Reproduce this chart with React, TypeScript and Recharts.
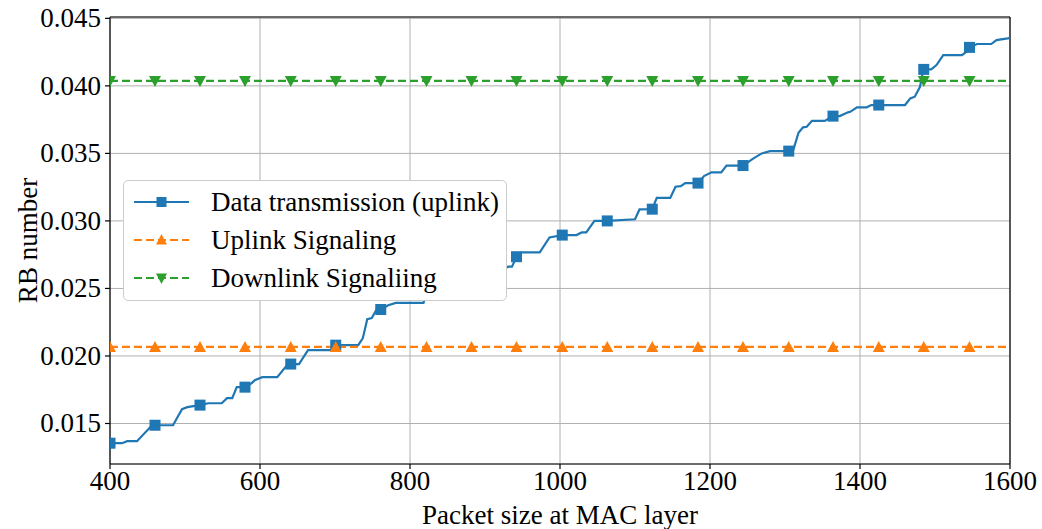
import React from 'react';
import { LineChart, Line, XAxis, YAxis, CartesianGrid, Legend, ReferenceLine } from 'recharts';

const FONT = '"Liberation Serif", "Times New Roman", Times, serif';
const FS = 27;
const BLUE = '#1f77b4';
const ORANGE = '#ff7f0e';
const GREEN = '#2ca02c';

// Packet size (x) and RB number (y) of the data transmission curve
const dataX = [
  400, 416, 423, 436, 456, 460, 484, 496, 503, 520, 531, 549, 556, 563, 569, 580, 589, 593, 603, 623,
  636, 641, 652, 664, 698, 701, 731, 737, 743, 749, 755, 761, 771, 781, 818, 822, 835, 850, 870, 882,
  900, 920, 931, 936, 942, 949, 973, 986, 1003, 1022, 1029, 1035, 1046, 1063, 1100, 1106, 1123, 1129, 1147, 1154,
  1161, 1167, 1184, 1192, 1202, 1215, 1222, 1244, 1258, 1269, 1280, 1305, 1311, 1318, 1324, 1329, 1336, 1353, 1364, 1373,
  1384, 1387, 1396, 1409, 1415, 1425, 1460, 1467, 1473, 1480, 1483, 1485, 1495, 1502, 1511, 1536, 1542, 1546, 1556, 1575,
  1582, 1597, 1600,
];
const dataY = [
  0.01354, 0.01354, 0.01369, 0.01369, 0.01487, 0.01487, 0.01487, 0.01606, 0.01621, 0.01636, 0.0165, 0.0165, 0.01688, 0.01688, 0.01769, 0.01769, 0.01799, 0.01821, 0.01843, 0.01843,
  0.01932, 0.0194, 0.0194, 0.02043, 0.02043, 0.0208, 0.0208, 0.0213, 0.02272, 0.0228, 0.0234, 0.02344, 0.02376, 0.02393, 0.02393, 0.0247, 0.0248, 0.025, 0.0254, 0.0258,
  0.0261, 0.0263, 0.02661, 0.02661, 0.02735, 0.02767, 0.02767, 0.02878, 0.02895, 0.02895, 0.02915, 0.02915, 0.03, 0.03, 0.03012, 0.03085, 0.03087, 0.0317, 0.0317, 0.03253,
  0.03258, 0.0328, 0.0328, 0.03332, 0.0336, 0.0336, 0.0341, 0.0341, 0.03463, 0.035, 0.03517, 0.03517, 0.03525, 0.03653, 0.03693, 0.03697, 0.03741, 0.03741, 0.03776, 0.03776,
  0.03804, 0.03808, 0.03841, 0.03841, 0.03858, 0.03858, 0.03858, 0.03907, 0.0392, 0.03993, 0.0408, 0.04122, 0.04122, 0.04154, 0.04228, 0.04228, 0.04253, 0.04285, 0.0431, 0.0431,
  0.04339, 0.04352, 0.04355,
];
// x positions where markers are drawn
const markerX = [400, 460, 520, 580, 641, 701, 761, 822, 882, 942, 1003, 1063, 1123, 1184, 1244, 1305, 1364, 1425, 1485, 1546];
const uplinkSignaling = 0.02067;
const downlinkSignaling = 0.04037;

const xTicks = [400, 600, 800, 1000, 1200, 1400, 1600];
const yTicks = [0.015, 0.02, 0.025, 0.03, 0.035, 0.04, 0.045];

const seriesNames = ['Data transmission (uplink)', 'Uplink Signaling', 'Downlink Signaliing'];

const dataRows = dataX.map((x, i) => ({ x, v: dataY[i], m: markerX.includes(x) }));
const sigX = [...markerX, 1600];
const upRows = sigX.map((x) => ({ x, v: uplinkSignaling, m: markerX.includes(x) }));
const downRows = sigX.map((x) => ({ x, v: downlinkSignaling, m: markerX.includes(x) }));

const SQ = 11;
const squareDot = (p: any) => {
  if (!p.payload || !p.payload.m) return <g key={p.key || `s${p.index}`} />;
  return <rect key={p.key || `s${p.index}`} x={p.cx - SQ / 2} y={p.cy - SQ / 2} width={SQ} height={SQ} fill={BLUE} />;
};
const triUp = (color: string) => (p: any) => {
  if (!p.payload || !p.payload.m) return <g key={p.key || `t${p.index}`} />;
  const { cx, cy } = p;
  return <path key={p.key || `t${p.index}`} d={`M${cx},${cy - 6} L${cx + 6},${cy + 5} L${cx - 6},${cy + 5} Z`} fill={color} />;
};
const triDown = (color: string) => (p: any) => {
  if (!p.payload || !p.payload.m) return <g key={p.key || `d${p.index}`} />;
  const { cx, cy } = p;
  return <path key={p.key || `d${p.index}`} d={`M${cx},${cy + 6} L${cx + 6},${cy - 5} L${cx - 6},${cy - 5} Z`} fill={color} />;
};

const XTick = (p: any) => (
  <text x={p.x} y={p.y + 21} textAnchor="middle" fontFamily={FONT} fontSize={FS} fill="#000">
    {p.payload.value}
  </text>
);
const YTick = (p: any) => (
  <text x={p.x} y={p.y + 9} textAnchor="end" fontFamily={FONT} fontSize={FS} fill="#000">
    {Number(p.payload.value).toFixed(3)}
  </text>
);

const XLabel = (p: any) => {
  const vb = p.viewBox || { x: 110, y: 464, width: 900 };
  return (
    <text x={vb.x + vb.width / 2} y={vb.y + 60} textAnchor="middle" fontFamily={FONT} fontSize={FS} fill="#000">
      Packet size at MAC layer
    </text>
  );
};
const YLabel = (p: any) => {
  const vb = p.viewBox || { x: 0, y: 17, width: 110, height: 447 };
  const cx = 37;
  const cy = vb.y + vb.height / 2;
  return (
    <text x={cx} y={cy} transform={`rotate(-90, ${cx}, ${cy})`} textAnchor="middle" fontFamily={FONT} fontSize={FS} fill="#000">
      RB number
    </text>
  );
};

const legendSymbol = (i: number) => {
  const color = [BLUE, ORANGE, GREEN][i];
  const dash = i === 0 ? undefined : '8 4';
  const cy = 12;
  return (
    <svg width={87} height={24} style={{ display: 'block', flex: 'none' }}>
      <line x1={10} x2={65} y1={cy} y2={cy} stroke={color} strokeWidth={2.2} strokeDasharray={dash} />
      {i === 0 && <rect x={37.5 - 5} y={cy - 5} width={10} height={10} fill={color} />}
      {i === 1 && <path d={`M37.5,${cy - 6} L43,${cy + 4.5} L32,${cy + 4.5} Z`} fill={color} />}
      {i === 2 && <path d={`M37.5,${cy + 6} L43,${cy - 4.5} L32,${cy - 4.5} Z`} fill={color} />}
    </svg>
  );
};

const renderLegend = () => (
  <div
    style={{
      width: 384,
      height: 121,
      boxSizing: 'border-box',
      border: '1px solid #cccccc',
      borderRadius: 5,
      background: '#ffffff',
      position: 'relative',
      fontFamily: FONT,
      fontSize: FS,
      color: '#000',
    }}
  >
    {seriesNames.map((name, i) => (
      <div
        key={name}
        style={{ position: 'absolute', left: 0, top: 20.5 + 38.3 * i - 12, height: 24, display: 'flex', alignItems: 'center', whiteSpace: 'nowrap' }}
      >
        {legendSymbol(i)}
        <span style={{ lineHeight: '24px' }}>{name}</span>
      </div>
    ))}
  </div>
);

export default function App() {
  return (
    <div style={{ position: 'absolute', left: 0, top: 0, width: 1042, height: 529, background: '#fff' }}>
      <LineChart width={1042} height={529} data={dataRows} margin={{ top: 17, right: 32, bottom: 0, left: 0 }}>
        <CartesianGrid stroke="#b0b0b0" strokeWidth={1} />
        <XAxis
          dataKey="x"
          type="number"
          domain={[400, 1600]}
          ticks={xTicks}
          allowDataOverflow
          height={65}
          tickSize={5}
          tickMargin={0}
          axisLine={{ stroke: '#000', strokeWidth: 1.2 }}
          tickLine={{ stroke: '#000', strokeWidth: 1.2 }}
          tick={<XTick />}
          label={<XLabel />}
          interval={0}
        />
        <YAxis
          type="number"
          domain={[0.012, 0.0451]}
          ticks={yTicks}
          allowDataOverflow
          width={110}
          tickSize={5}
          tickMargin={4}
          axisLine={{ stroke: '#000', strokeWidth: 1.2 }}
          tickLine={{ stroke: '#000', strokeWidth: 1.2 }}
          tick={<YTick />}
          label={<YLabel />}
          interval={0}
        />
        <ReferenceLine y={0.0451} stroke="#000" strokeWidth={1.2} />
        <ReferenceLine x={1600} stroke="#000" strokeWidth={1.2} />
        <Line data={dataRows} dataKey="v" stroke={BLUE} strokeWidth={2.2} dot={squareDot} activeDot={false} isAnimationActive={false} type="linear" />
        <Line data={upRows} dataKey="v" stroke={ORANGE} strokeWidth={2.2} strokeDasharray="8 4" dot={triUp(ORANGE)} activeDot={false} isAnimationActive={false} type="linear" />
        <Line data={downRows} dataKey="v" stroke={GREEN} strokeWidth={2.2} strokeDasharray="8 4" dot={triDown(GREEN)} activeDot={false} isAnimationActive={false} type="linear" />
        <Legend
          content={renderLegend}
          layout="horizontal"
          verticalAlign="middle"
          align="center"
          wrapperStyle={{ position: 'absolute', left: 123, top: 180, width: 384, height: 121, bottom: 'auto', right: 'auto', zIndex: 10 }}
        />
      </LineChart>
    </div>
  );
}
